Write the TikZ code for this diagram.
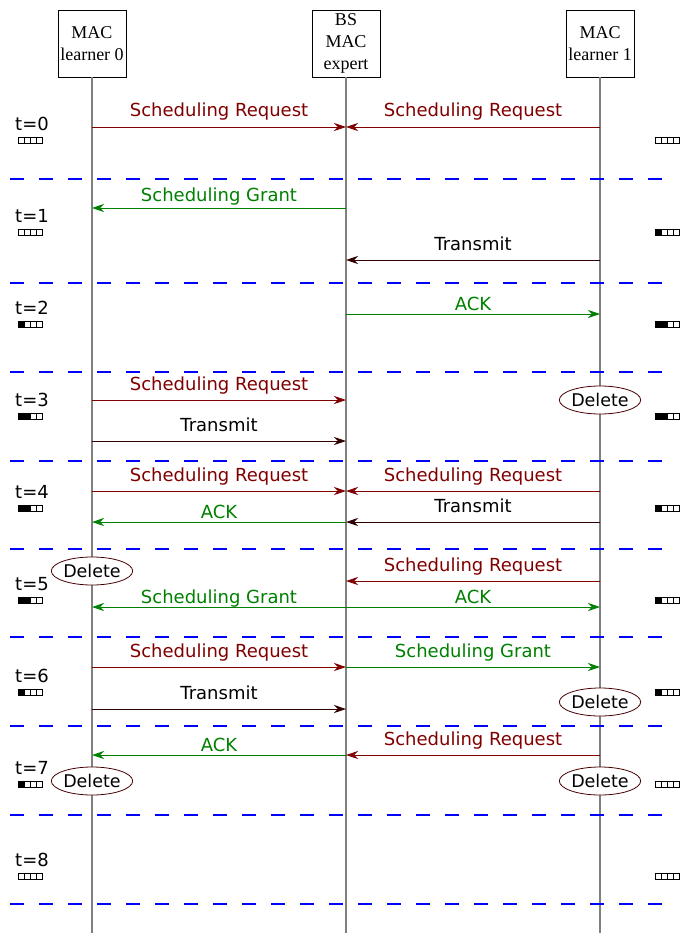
\documentclass[tikz,border=0pt]{standalone}
\usepackage{fontspec}
\setmainfont{Liberation Serif}
\newfontfamily\msgfont{DejaVu Sans}
\usepackage{tikz}
\usetikzlibrary{arrows.meta,shapes.geometric}

\definecolor{srred}{RGB}{128,0,0}
\definecolor{okgreen}{RGB}{0,128,0}
\definecolor{txdark}{RGB}{50,0,0}
\definecolor{delbrown}{RGB}{70,0,0}

\tikzset{
  actor/.style={draw, line width=0.6pt, minimum width=68pt, minimum height=67pt,
    inner sep=1pt, align=center, font=\fontsize{18}{22}\selectfont},
  life/.style={draw=gray, line width=1.2pt},
  slot/.style={draw=blue, line width=1.1pt, dash pattern=on 14pt off 15pt},
  msg/.style={line width=0.8pt, -{Stealth[length=12pt,width=8pt]}},
  sr/.style={msg, srred},
  sg/.style={msg, okgreen},
  tx/.style={msg, txdark},
  lbl/.style={midway, anchor=base, font=\msgfont\fontsize{18}{21}\selectfont},
  lblhi/.style={lbl, yshift=10pt},
  lbllow/.style={lbl, yshift=4pt},
  tick/.style={font=\msgfont\fontsize{18}{21}\selectfont, inner sep=0pt},
  delete/.style={ellipse, draw=delbrown, fill=white, line width=0.8pt,
    minimum width=76pt, minimum height=28pt, inner sep=0pt,
    font=\msgfont\fontsize{17.5}{20}\selectfont}
}

% buffer: x, y, filled cells
\newcommand{\bufcells}[3]{%
  \foreach \k in {0,...,3}{
    \ifnum\k<#3 \def\cellfill{black}\else\def\cellfill{white}\fi
    \draw[fill=\cellfill, line width=0.6pt] (#1+6*\k,#2-3) rectangle ++(6,6);
  }}

\begin{document}
\begin{tikzpicture}[x=1pt, y=-1pt]
  \useasboundingbox (0,0) rectangle (694,933);

  % actors
  \node[actor] (L0) at (92,43.5) {MAC\\learner 0};
  \node[actor] (BS) at (346,43.5) {BS\\MAC\\expert};
  \node[actor] (L1) at (600,43.5) {MAC\\learner 1};

  \coordinate (L0end) at (92,933);
  \coordinate (BSend) at (346,933);
  \coordinate (L1end) at (600,933);
  \draw[life] (L0) -- (L0end);
  \draw[life] (BS) -- (BSend);
  \draw[life] (L1) -- (L1end);

  % slot borders
  \foreach \y in {179,283,372,461,549,637,726,815,904}
    \draw[slot] (10,\y) -- (664,\y);

  % slot labels and buffers
  \foreach \t/\lf/\rf in {0/0/0,1/0/1,2/1/2,3/2/2,4/2/1,5/2/1,6/1/1,7/1/0,8/0/0}{
    \pgfmathsetmacro{\ty}{124+92*\t}
    \node[tick] (t\t) at (32,\ty) {t=\t};
    \bufcells{18}{\ty+16}{\lf}
    \bufcells{655}{\ty+16}{\rf}
  }

  % message rows on each lifeline
  \foreach \y [count=\i] in {127,208,260,314,400,441,491,522,581,607,667,709,755}{
    \coordinate (A\i) at (92,\y);
    \coordinate (B\i) at (346,\y);
    \coordinate (C\i) at (600,\y);
  }

  % t=0
  \draw[sr] (A1) -- (B1) node[lblhi, srred] {Scheduling Request};
  \draw[sr] (C1) -- (B1) node[lblhi, srred] {Scheduling Request};
  % t=1
  \draw[sg] (B2) -- (A2) node[lbl, yshift=6pt, okgreen] {Scheduling Grant};
  \draw[tx] (C3) -- (B3) node[lblhi, black] {Transmit};
  % t=2
  \draw[sg] (B4) -- (C4) node[lbllow, okgreen] {ACK};
  % t=3
  \draw[sr] (A5) -- (B5) node[lblhi, srred] {Scheduling Request};
  \draw[tx] (A6) -- (B6) node[lblhi, black] {Transmit};
  \node[delete] (del1) at (C5) {Delete};
  % t=4
  \draw[sr] (A7) -- (B7) node[lblhi, srred] {Scheduling Request};
  \draw[sr] (C7) -- (B7) node[lblhi, srred] {Scheduling Request};
  \draw[tx] (C8) -- (B8) node[lblhi, black] {Transmit};
  \draw[sg] (B8) -- (A8) node[lbllow, okgreen] {ACK};
  % t=5
  \node[delete] (del2) at (92,571) {Delete};
  \draw[sr] (C9) -- (B9) node[lblhi, srred] {Scheduling Request};
  \draw[sg] (B10) -- (A10) node[lbllow, okgreen] {Scheduling Grant};
  \draw[sg] (B10) -- (C10) node[lbllow, okgreen] {ACK};
  % t=6
  \draw[sr] (A11) -- (B11) node[lblhi, srred] {Scheduling Request};
  \draw[sg] (B11) -- (C11) node[lblhi, okgreen] {Scheduling Grant};
  \draw[tx] (A12) -- (B12) node[lblhi, black] {Transmit};
  \node[delete] (del3) at (600,702) {Delete};
  % t=7
  \draw[sg] (B13) -- (A13) node[lbllow, okgreen] {ACK};
  \draw[sr] (C13) -- (B13) node[lblhi, srred] {Scheduling Request};
  \node[delete] (del4) at (92,781) {Delete};
  \node[delete] (del5) at (600,781) {Delete};
\end{tikzpicture}
\end{document}
